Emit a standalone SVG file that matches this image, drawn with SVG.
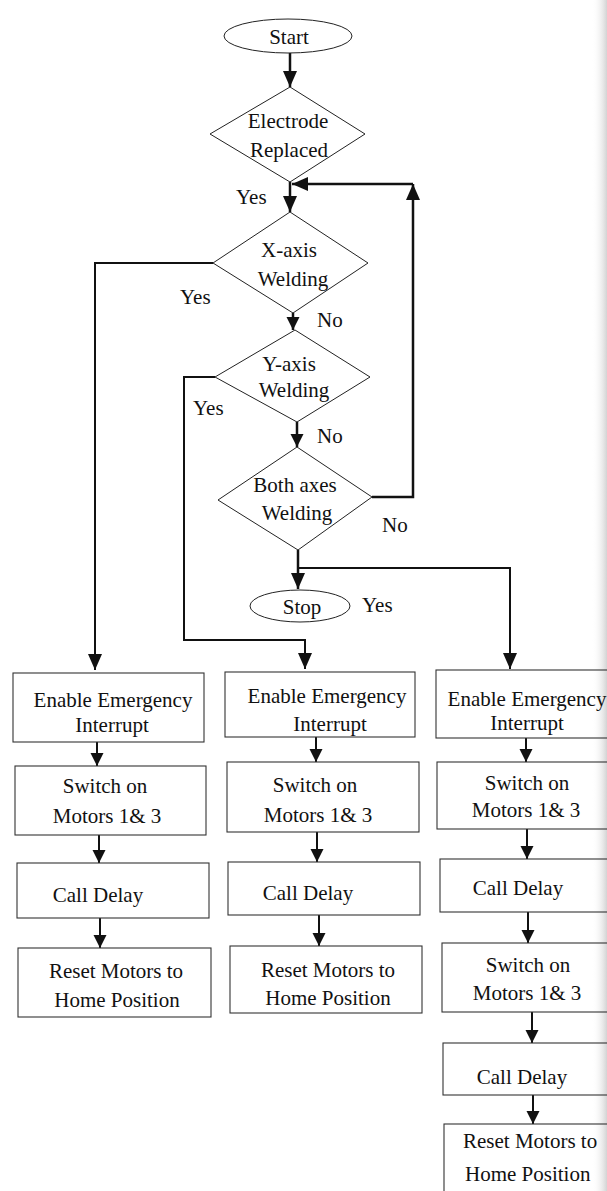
<svg xmlns="http://www.w3.org/2000/svg" width="607" height="1191" viewBox="0 0 607 1191">
<defs>
<marker id="ah" markerUnits="userSpaceOnUse" markerWidth="16" markerHeight="18" refX="16" refY="7" orient="auto">
<path d="M0,0 L16,7 L0,14 Z" fill="#111"/>
</marker>
<marker id="ahs" markerUnits="userSpaceOnUse" markerWidth="14" markerHeight="14" refX="13" refY="6.5" orient="auto">
<path d="M0,0 L13,6.5 L0,13 Z" fill="#111"/>
</marker>
<linearGradient id="edge" x1="0" y1="0" x2="1" y2="0">
<stop offset="0" stop-color="#ffffff" stop-opacity="0"/>
<stop offset="1" stop-color="#c8c8c8" stop-opacity="0.8"/>
</linearGradient>
</defs>
<style>
.t{fill:#111;text-anchor:middle}
.lbl{fill:#111;text-anchor:start}
.shape{fill:none;stroke:#222;stroke-width:1}
.box{fill:none;stroke:#333;stroke-width:1.1}
.con{fill:none;stroke:#111;stroke-width:2.5}
.con2{fill:none;stroke:#111;stroke-width:2}
</style>
<rect x="0" y="0" width="607" height="1191" fill="#ffffff"/>
<rect x="592" y="0" width="15" height="1191" fill="url(#edge)"/>

<g id="connectors">
<path class="con" d="M290,53 V87" marker-end="url(#ah)"/>
<path class="con" d="M290,182 V212" marker-end="url(#ah)"/>
<path class="con" d="M372,497 H413 V184" marker-end="url(#ah)"/>
<path class="con" d="M413,184 H292" marker-end="url(#ah)"/>
<path class="con2" d="M213,263 H95 V670" marker-end="url(#ah)"/>
<path class="con" d="M293,313 V330" marker-end="url(#ahs)"/>
<path class="con2" d="M215,377 H184 V640 H305 V669" marker-end="url(#ah)"/>
<path class="con" d="M297,422 V447" marker-end="url(#ahs)"/>
<path class="con" d="M298,550 V589" marker-end="url(#ah)"/>
<path class="con2" d="M298,568 H510 V669" marker-end="url(#ah)"/>
<path class="con2" d="M97,742 V766" marker-end="url(#ahs)"/>
<path class="con2" d="M99,835 V863" marker-end="url(#ahs)"/>
<path class="con2" d="M100,918 V948" marker-end="url(#ahs)"/>
<path class="con2" d="M316,737 V762" marker-end="url(#ahs)"/>
<path class="con2" d="M317,832 V862" marker-end="url(#ahs)"/>
<path class="con2" d="M319,915 V946" marker-end="url(#ahs)"/>
<path class="con2" d="M526,738 V762" marker-end="url(#ahs)"/>
<path class="con2" d="M527,829 V859" marker-end="url(#ahs)"/>
<path class="con2" d="M528,912 V943" marker-end="url(#ahs)"/>
<path class="con2" d="M532,1012 V1043" marker-end="url(#ahs)"/>
<path class="con2" d="M533,1095 V1124" marker-end="url(#ahs)"/>
</g>

<g id="labels">
<text class="lbl" font-family="Liberation Serif" font-size="21" x="236" y="204">Yes</text>
<text class="lbl" font-family="Liberation Serif" font-size="21" x="180" y="304">Yes</text>
<text class="lbl" font-family="Liberation Serif" font-size="21" x="317" y="327">No</text>
<text class="lbl" font-family="Liberation Serif" font-size="21" x="193" y="415">Yes</text>
<text class="lbl" font-family="Liberation Serif" font-size="21" x="317" y="443">No</text>
<text class="lbl" font-family="Liberation Serif" font-size="21" x="382" y="532">No</text>
<text class="lbl" font-family="Liberation Serif" font-size="21" x="362" y="612">Yes</text>
</g>

<g id="start">
<ellipse class="shape" cx="288" cy="36" rx="64" ry="17"/>
<text class="t" font-family="Liberation Serif" font-size="21" x="289" y="44">Start</text>
</g>

<g id="electrode">
<polygon class="shape" points="290,87 365,134 290,182 210,134"/>
<text class="t" font-family="Liberation Serif" font-size="21" x="288" y="128">Electrode</text>
<text class="t" font-family="Liberation Serif" font-size="21" x="289" y="157">Replaced</text>
</g>

<g id="xaxis">
<polygon class="shape" points="290,212 368,263 293,313 213,263"/>
<text class="t" font-family="Liberation Serif" font-size="21" x="289" y="257">X-axis</text>
<text class="t" font-family="Liberation Serif" font-size="21" x="293" y="286">Welding</text>
</g>

<g id="yaxis">
<polygon class="shape" points="295,330 370,377 297,422 215,377"/>
<text class="t" font-family="Liberation Serif" font-size="21" x="289" y="371">Y-axis</text>
<text class="t" font-family="Liberation Serif" font-size="21" x="294" y="397">Welding</text>
</g>

<g id="both">
<polygon class="shape" points="297,447 372,497 298,550 218,500"/>
<text class="t" font-family="Liberation Serif" font-size="21" x="295" y="492">Both axes</text>
<text class="t" font-family="Liberation Serif" font-size="21" x="297" y="520">Welding</text>
</g>

<g id="stop">
<ellipse class="shape" cx="300" cy="606" rx="50" ry="16"/>
<text class="t" font-family="Liberation Serif" font-size="21" x="302" y="614">Stop</text>
</g>

<g id="c1-enable">
<rect class="box" x="13" y="673" width="191" height="69"/>
<text class="t" font-family="Liberation Serif" font-size="21" x="113" y="707">Enable Emergency</text>
<text class="t" font-family="Liberation Serif" font-size="21" x="112" y="732">Interrupt</text>
</g>
<g id="c1-switch">
<rect class="box" x="15" y="766" width="191" height="69"/>
<text class="t" font-family="Liberation Serif" font-size="21" x="105" y="793">Switch on</text>
<text class="t" font-family="Liberation Serif" font-size="21" x="107" y="823">Motors 1&amp; 3</text>
</g>
<g id="c1-delay">
<rect class="box" x="17" y="863" width="192" height="55"/>
<text class="t" font-family="Liberation Serif" font-size="21" x="98" y="902">Call Delay</text>
</g>
<g id="c1-reset">
<rect class="box" x="18" y="948" width="193" height="69"/>
<text class="t" font-family="Liberation Serif" font-size="21" x="116" y="978">Reset Motors to</text>
<text class="t" font-family="Liberation Serif" font-size="21" x="117" y="1007">Home Position</text>
</g>

<g id="c2-enable">
<rect class="box" x="225" y="672" width="190" height="65"/>
<text class="t" font-family="Liberation Serif" font-size="21" x="327" y="703">Enable Emergency</text>
<text class="t" font-family="Liberation Serif" font-size="21" x="330" y="731">Interrupt</text>
</g>
<g id="c2-switch">
<rect class="box" x="227" y="762" width="192" height="70"/>
<text class="t" font-family="Liberation Serif" font-size="21" x="315" y="792">Switch on</text>
<text class="t" font-family="Liberation Serif" font-size="21" x="318" y="822">Motors 1&amp; 3</text>
</g>
<g id="c2-delay">
<rect class="box" x="228" y="862" width="192" height="53"/>
<text class="t" font-family="Liberation Serif" font-size="21" x="308" y="900">Call Delay</text>
</g>
<g id="c2-reset">
<rect class="box" x="230" y="946" width="192" height="67"/>
<text class="t" font-family="Liberation Serif" font-size="21" x="328" y="977">Reset Motors to</text>
<text class="t" font-family="Liberation Serif" font-size="21" x="328" y="1005">Home Position</text>
</g>

<g id="c3-enable">
<rect class="box" x="436" y="670" width="185" height="68"/>
<text class="t" font-family="Liberation Serif" font-size="21" x="527" y="706">Enable Emergency</text>
<text class="t" font-family="Liberation Serif" font-size="21" x="527" y="730">Interrupt</text>
</g>
<g id="c3-switch1">
<rect class="box" x="437" y="762" width="185" height="67"/>
<text class="t" font-family="Liberation Serif" font-size="21" x="527" y="790">Switch on</text>
<text class="t" font-family="Liberation Serif" font-size="21" x="526" y="817">Motors 1&amp; 3</text>
</g>
<g id="c3-delay1">
<rect class="box" x="440" y="859" width="185" height="53"/>
<text class="t" font-family="Liberation Serif" font-size="21" x="518" y="895">Call Delay</text>
</g>
<g id="c3-switch2">
<rect class="box" x="442" y="943" width="185" height="69"/>
<text class="t" font-family="Liberation Serif" font-size="21" x="528" y="972">Switch on</text>
<text class="t" font-family="Liberation Serif" font-size="21" x="527" y="1000">Motors 1&amp; 3</text>
</g>
<g id="c3-delay2">
<rect class="box" x="443" y="1043" width="185" height="52"/>
<text class="t" font-family="Liberation Serif" font-size="21" x="522" y="1084">Call Delay</text>
</g>
<g id="c3-reset">
<rect class="box" x="444" y="1124" width="185" height="75"/>
<text class="lbl" font-family="Liberation Serif" font-size="21" x="463" y="1148">Reset Motors to</text>
<text class="lbl" font-family="Liberation Serif" font-size="21" x="465" y="1181">Home Position</text>
</g>
</svg>
